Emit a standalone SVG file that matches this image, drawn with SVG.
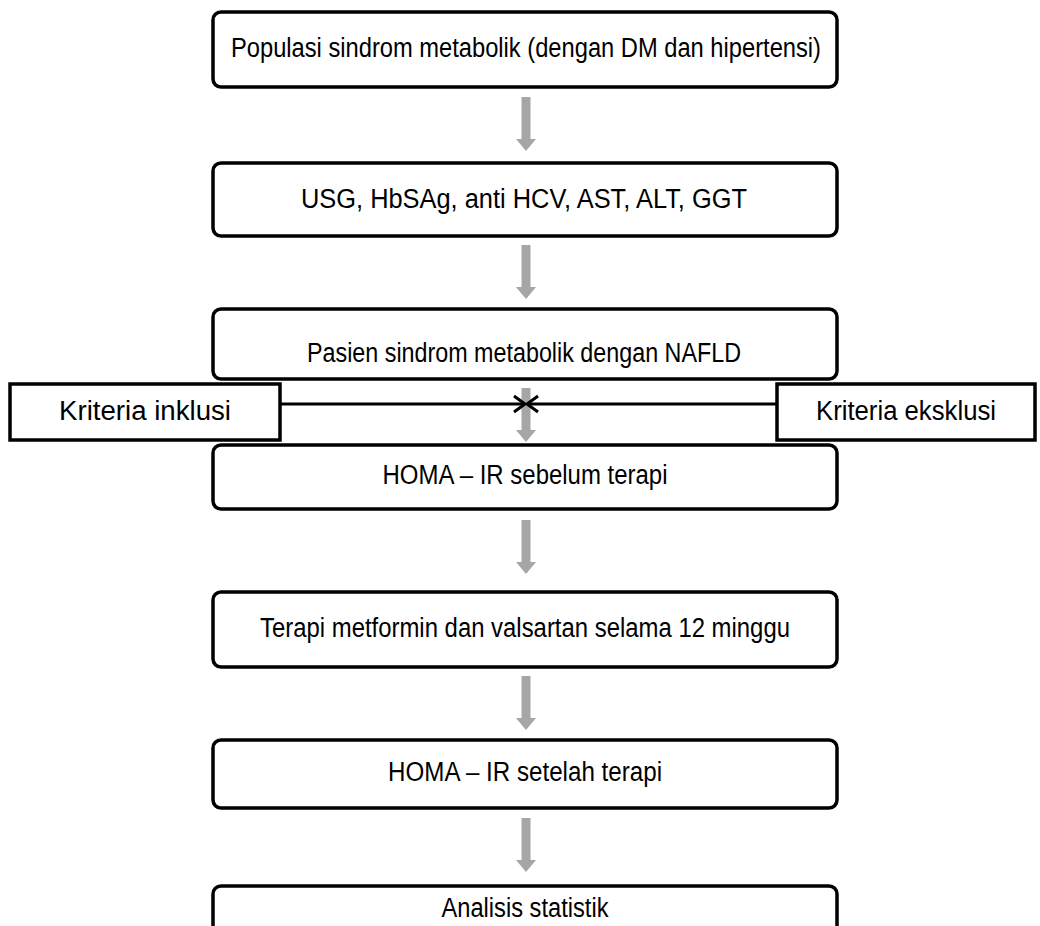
<svg xmlns="http://www.w3.org/2000/svg" width="1040" height="926" viewBox="0 0 1040 926">
  <style>
    .box { fill: #ffffff; stroke: #000000; stroke-width: 3.5; }
    .lbl { font-family: "Liberation Sans", Arial, sans-serif; font-size: 27px; fill: #000000; text-anchor: middle; dominant-baseline: central; }
    .flow { fill: #a6a6a6; }
    .link { stroke: #000000; stroke-width: 3; fill: none; }
    .tip { stroke: #000000; stroke-width: 3; fill: none; }
  </style>
  <defs>
    <!-- gray block arrow pointing down, origin at shaft top centre -->
    <path id="down" class="flow" d="M -4.5 0 H 4.5 V 42 H 10 L 0 54 L -10 42 H -4.5 Z"/>
  </defs>
  <rect width="1040" height="926" fill="#ffffff"/>

  <!-- connectors -->
  <g id="connectors">
    <use href="#down" x="526" y="97"/>
    <use href="#down" x="526" y="245"/>
    <use href="#down" x="526" y="388"/>
    <use href="#down" x="526" y="520"/>
    <use href="#down" x="526" y="676"/>
    <use href="#down" x="526" y="818"/>
    <line class="link" x1="280" y1="404" x2="524" y2="404"/>
    <line class="link" x1="777" y1="404" x2="528" y2="404"/>
    <path class="tip" d="M 514 396 L 525 404 L 514 412"/>
    <path class="tip" d="M 538 396 L 527 404 L 538 412"/>
  </g>

  <g id="populasi">
    <rect class="box" x="213" y="12" width="624" height="75" rx="8"/>
    <text class="lbl" x="526" y="48" textLength="590" lengthAdjust="spacingAndGlyphs">Populasi sindrom metabolik (dengan DM dan hipertensi)</text>
  </g>
  <g id="pemeriksaan">
    <rect class="box" x="213" y="163" width="624" height="73" rx="8"/>
    <text class="lbl" x="524" y="199" textLength="446" lengthAdjust="spacingAndGlyphs">USG, HbSAg, anti HCV, AST, ALT, GGT</text>
  </g>
  <g id="nafld">
    <rect class="box" x="213" y="309" width="624" height="70" rx="8"/>
    <text class="lbl" x="524" y="353" textLength="434" lengthAdjust="spacingAndGlyphs">Pasien sindrom metabolik dengan NAFLD</text>
  </g>
  <g id="inklusi">
    <rect class="box" x="10" y="384" width="270" height="56"/>
    <text class="lbl" x="145" y="411" textLength="172" lengthAdjust="spacingAndGlyphs">Kriteria inklusi</text>
  </g>
  <g id="eksklusi">
    <rect class="box" x="777" y="384" width="258" height="56"/>
    <text class="lbl" x="906" y="411" textLength="180" lengthAdjust="spacingAndGlyphs">Kriteria eksklusi</text>
  </g>
  <g id="homa-sebelum">
    <rect class="box" x="213" y="445" width="624" height="64" rx="8"/>
    <text class="lbl" x="525" y="475" textLength="285" lengthAdjust="spacingAndGlyphs">HOMA – IR sebelum terapi</text>
  </g>
  <g id="terapi">
    <rect class="box" x="213" y="592" width="624" height="75" rx="8"/>
    <text class="lbl" x="525" y="628" textLength="530" lengthAdjust="spacingAndGlyphs">Terapi metformin dan valsartan selama 12 minggu</text>
  </g>
  <g id="homa-setelah">
    <rect class="box" x="213" y="740" width="624" height="68" rx="8"/>
    <text class="lbl" x="525" y="772" textLength="274" lengthAdjust="spacingAndGlyphs">HOMA – IR setelah terapi</text>
  </g>
  <g id="analisis">
    <rect class="box" x="213" y="886" width="624" height="60" rx="8"/>
    <text class="lbl" x="525" y="908" textLength="167" lengthAdjust="spacingAndGlyphs">Analisis statistik</text>
  </g>
</svg>
